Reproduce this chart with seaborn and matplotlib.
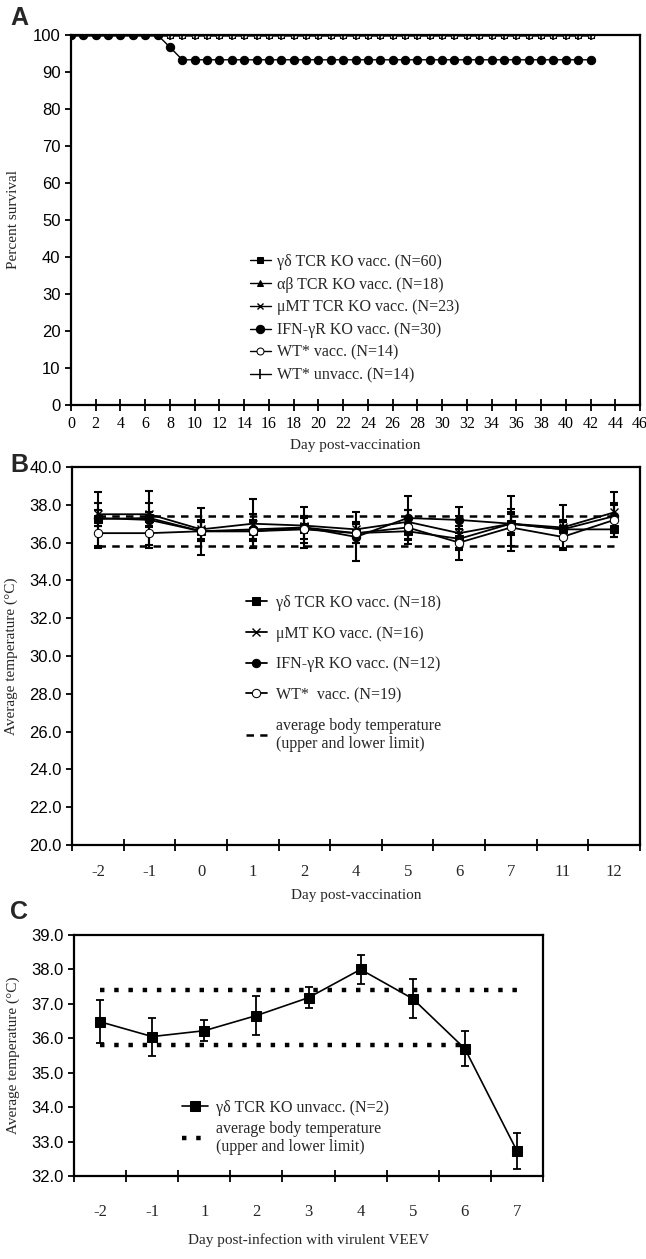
import matplotlib
matplotlib.use("Agg")
import matplotlib.pyplot as plt
import seaborn as sns
from matplotlib.ticker import FormatStrFormatter, FixedLocator, NullFormatter

# ---- panel A: survival after vaccination ----
days_a = [0, 1, 2, 3, 4, 5, 6, 7, 8, 9, 10, 11, 12, 13, 14, 15, 16, 17, 18, 19, 20,
          21, 22, 23, 24, 25, 26, 27, 28, 29, 30, 31, 32, 33, 34, 35, 36, 37, 38, 39,
          40, 41, 42]
surv_full = [100, 100, 100, 100, 100, 100, 100, 100, 100, 100, 100, 100, 100, 100,
             100, 100, 100, 100, 100, 100, 100, 100, 100, 100, 100, 100, 100, 100,
             100, 100, 100, 100, 100, 100, 100, 100, 100, 100, 100, 100, 100, 100, 100]
surv_ifn = [100, 100, 100, 100, 100, 100, 100, 100, 96.7, 93.3, 93.3, 93.3, 93.3,
            93.3, 93.3, 93.3, 93.3, 93.3, 93.3, 93.3, 93.3, 93.3, 93.3, 93.3, 93.3,
            93.3, 93.3, 93.3, 93.3, 93.3, 93.3, 93.3, 93.3, 93.3, 93.3, 93.3, 93.3,
            93.3, 93.3, 93.3, 93.3, 93.3, 93.3]
labels_a = ["γδ TCR KO vacc. (N=60)", "αβ TCR KO vacc. (N=18)",
            "μMT TCR KO vacc. (N=23)", "IFN-γR KO vacc. (N=30)",
            "WT* vacc. (N=14)", "WT* unvacc. (N=14)"]

# ---- panel B: temperature after vaccination ----
cats_b = ["-2", "-1", "0", "1", "2", "4", "5", "6", "7", "11", "12"]
temp_gd_b = [37.25, 37.3, 36.6, 36.6, 36.8, 36.5, 36.6, 36.2, 37.0, 36.7, 36.7]
temp_mu_b = [37.5, 37.5, 36.7, 37.0, 36.9, 36.7, 37.1, 36.5, 37.0, 36.8, 37.6]
temp_ifn_b = [37.3, 37.2, 36.6, 36.7, 36.8, 36.3, 37.3, 37.2, 37.0, 36.7, 37.4]
temp_wt_b = [36.5, 36.5, 36.6, 36.6, 36.7, 36.5, 36.8, 36.0, 36.8, 36.3, 37.2]
err_gd_b = [1.45, 1.45, 0.5, 0.5, 0.6, 0.5, 0.4, 0.5, 0.5, 0.4, 0.4]
err_mu_b = [0.6, 0.6, 0.5, 1.3, 0.4, 0.4, 0.6, 0.9, 0.6, 1.2, 1.1]
err_ifn_b = [0.4, 0.4, 1.25, 0.5, 1.1, 1.3, 1.15, 0.7, 1.45, 0.5, 0.6]
err_wt_b = [0.8, 0.8, 0.5, 0.9, 0.7, 0.5, 0.9, 0.9, 1.0, 0.6, 0.9]
labels_b = ["γδ TCR KO vacc. (N=18)", "μMT KO vacc. (N=16)",
            "IFN-γR KO vacc. (N=12)", "WT*  vacc. (N=19)"]

# ---- panel C: temperature after virulent VEEV infection ----
cats_c = ["-2", "-1", "1", "2", "3", "4", "5", "6", "7"]
temp_c = [36.48, 36.05, 36.22, 36.66, 37.18, 38.0, 37.15, 35.7, 32.73]
err_c = [0.62, 0.55, 0.3, 0.56, 0.31, 0.42, 0.57, 0.5, 0.52]

upper_limit = 37.4
lower_limit = 35.8
limit_label = "average body temperature\n(upper and lower limit)"

sns.set_style("ticks")
serif = ["Liberation Serif", "DejaVu Serif"]
plt.rcParams["font.family"] = serif
tick_font = ["Liberation Sans Narrow", "Liberation Sans", "DejaVu Sans"]

W, H = 646, 1259
fig = plt.figure(figsize=(W / 100, H / 100), dpi=100)


def px_axes(left, top, right, bottom):
    return fig.add_axes([left / W, 1 - bottom / H, (right - left) / W, (bottom - top) / H])


def style_box(ax):
    for s in ax.spines.values():
        s.set_color("black")
        s.set_linewidth(1.6)
        s.set_visible(True)
    ax.tick_params(axis="y", direction="out", length=4, width=1.3, colors="black")
    ax.tick_params(axis="x", direction="inout", length=8, width=1.3, colors="black")
    for t in ax.get_yticklabels():
        t.set_family(tick_font)
        t.set_fontsize(12)


def category_axis(ax, cats, pad=14):
    n = len(cats)
    ax.set_xlim(-0.5, n - 0.5)
    ax.xaxis.set_major_locator(FixedLocator([i - 0.5 for i in range(n + 1)]))
    ax.xaxis.set_major_formatter(NullFormatter())
    ax.xaxis.set_minor_locator(FixedLocator(list(range(n))))
    ax.set_xticklabels(cats, minor=True)
    ax.tick_params(axis="x", which="minor", length=0, pad=pad, labelsize=12)


# ---------------- A ----------------
axA = px_axes(71, 35, 640, 405)
styles_a = [
    dict(marker="s", ms=5, mfc="black"),
    dict(marker="^", ms=5, mfc="black"),
    dict(marker="x", ms=5, mew=1.0),
    dict(marker="o", ms=6, mfc="black"),
    dict(marker="o", ms=5, mfc="white"),
    dict(marker="|", ms=7, mew=1.2),
]
series_a = [surv_full, surv_full, surv_full, surv_ifn, surv_full, surv_full]
order = [0, 1, 2, 4, 5, 3]
for i in order:
    sns.lineplot(x=days_a, y=series_a[i], ax=axA, color="black", lw=1.0,
                 mec="black", label=labels_a[i], **styles_a[i])
axA.set_xlim(0, 46)
axA.set_ylim(0, 100)
axA.set_xticks(range(0, 47, 2))
axA.set_yticks(range(0, 101, 10))
style_box(axA)
axA.tick_params(axis="x", labelsize=11.5, pad=4)
for t in axA.get_xticklabels():
    t.set_family(serif)
axA.set_xlabel("Day post-vaccination", fontsize=11, labelpad=5)
axA.set_ylabel("Percent survival", fontsize=11, labelpad=9)
h, l = axA.get_legend_handles_labels()
lookup = dict(zip(l, h))
axA.legend([lookup[x] for x in labels_a], labels_a, loc="upper left",
           bbox_to_anchor=(250 / W, 1 - 254 / H), bbox_transform=fig.transFigure,
           frameon=False, fontsize=11.5, handlelength=1.3, handletextpad=0.4,
           labelspacing=0.42, borderaxespad=0, borderpad=0)

# ---------------- B ----------------
axB = px_axes(72, 467, 640, 845)
pos_b = list(range(len(cats_b)))
styles_b = [
    dict(marker="s", ms=6, mfc="black"),
    dict(marker="x", ms=6, mew=1.0),
    dict(marker="o", ms=6, mfc="black"),
    dict(marker="o", ms=6, mfc="white"),
]
temps_b = [temp_gd_b, temp_mu_b, temp_ifn_b, temp_wt_b]
errs_b = [err_gd_b, err_mu_b, err_ifn_b, err_wt_b]
for vals, errs in zip(temps_b, errs_b):
    axB.errorbar(pos_b, vals, yerr=errs, fmt="none", ecolor="black",
                 elinewidth=1.5, capsize=3, capthick=1.5, zorder=2)
for vals, lab, st in zip(temps_b, labels_b, styles_b):
    sns.lineplot(x=pos_b, y=vals, ax=axB, color="black", lw=1.3, mec="black",
                 label=lab, zorder=3, **st)
axB.plot([pos_b[0], pos_b[-1]], [upper_limit, upper_limit], color="black",
         lw=1.8, ls=(0, (3, 2.5)), label=limit_label)
axB.plot([pos_b[0], pos_b[-1]], [lower_limit, lower_limit], color="black",
         lw=1.8, ls=(0, (3, 2.5)))
category_axis(axB, cats_b)
axB.set_ylim(20, 40)
axB.set_yticks(range(20, 41, 2))
axB.yaxis.set_major_formatter(FormatStrFormatter("%.1f"))
style_box(axB)
axB.set_xlabel("Day post-vaccination", fontsize=11, labelpad=6)
axB.set_ylabel("Average temperature (°C)", fontsize=11, labelpad=8)
axB.legend(loc="upper left", bbox_to_anchor=(246 / W, 1 - 595 / H),
           bbox_transform=fig.transFigure, frameon=False, fontsize=11.5,
           handlelength=1.3, handletextpad=0.6, labelspacing=0.92,
           borderaxespad=0, borderpad=0)

# ---------------- C ----------------
axC = px_axes(74, 935, 543, 1176)
pos_c = list(range(len(cats_c)))
axC.errorbar(pos_c, temp_c, yerr=err_c, fmt="none", ecolor="black",
             elinewidth=1.3, capsize=3, capthick=1.3, zorder=2)
sns.lineplot(x=pos_c, y=temp_c, ax=axC, color="black", lw=1.2, marker="s", ms=7,
             mfc="black", mec="black", label="γδ TCR KO unvacc. (N=2)", zorder=3)
axC.plot([pos_c[0], pos_c[-1]], [upper_limit, upper_limit], color="black",
         lw=3.2, ls=(0, (1, 2.2)), label=limit_label)
axC.plot([pos_c[0], pos_c[-2]], [lower_limit, lower_limit], color="black",
         lw=3.2, ls=(0, (1, 2.2)))
category_axis(axC, cats_c, pad=20)
axC.set_ylim(32, 39)
axC.set_yticks(range(32, 40, 1))
axC.yaxis.set_major_formatter(FormatStrFormatter("%.1f"))
style_box(axC)
axC.set_xlabel("Day post-infection with virulent VEEV", fontsize=11, labelpad=10)
axC.set_ylabel("Average temperature (°C)", fontsize=11, labelpad=8)
axC.legend(loc="upper left", bbox_to_anchor=(182 / W, 1 - 1100 / H),
           bbox_transform=fig.transFigure, frameon=False, fontsize=11.5,
           handlelength=1.6, handletextpad=0.5, labelspacing=0.3,
           borderaxespad=0, borderpad=0)

for letter, y in [("A", 18), ("B", 465), ("C", 912)]:
    fig.text(10 / W, 1 - y / H, letter, fontsize=18, fontweight="bold",
             family=["Liberation Sans", "DejaVu Sans"], va="center", ha="left")

fig.savefig("out.png", dpi=100, facecolor="white")
